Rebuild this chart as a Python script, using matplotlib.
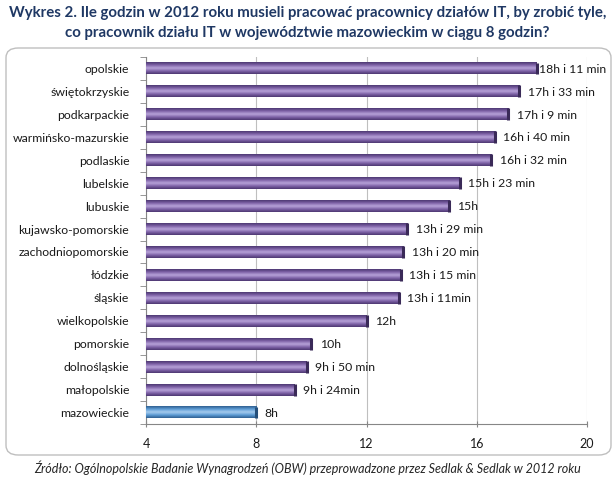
from matplotlib import pyplot as plt
from matplotlib.patches import FancyBboxPatch
from matplotlib.colors import LinearSegmentedColormap
import numpy as np

# data (hours, minutes -> decimal hours)
regions = ['opolskie', 'świętokrzyskie', 'podkarpackie', 'warmińsko-mazurskie', 'podlaskie',
           'lubelskie', 'lubuskie', 'kujawsko-pomorskie', 'zachodniopomorskie', 'łódzkie',
           'śląskie', 'wielkopolskie', 'pomorskie', 'dolnośląskie', 'małopolskie', 'mazowieckie']
hours = [18, 17, 17, 16, 16, 15, 15, 13, 13, 13, 13, 12, 10, 9, 9, 8]
minutes = [11, 33, 9, 40, 32, 23, 0, 29, 20, 15, 11, 0, 0, 50, 24, 0]
labels = ['18h i 11 min', '17h i 33 min', '17h i 9 min', '16h i 40 min', '16h i 32 min',
          '15h i 23 min', '15h', '13h i 29 min', '13h i 20 min', '13h i 15 min',
          '13h i 11min', '12h', '10h', '9h i 50 min', '9h i 24min', '8h']
xticks = [4, 8, 12, 16, 20]

values = np.array(hours) + np.array(minutes) / 60.0
plt.rcParams['font.family'] = ['Lato', 'DejaVu Sans']

fig = plt.figure(figsize=(6.15, 4.79), dpi=100)
# rounded frame behind the plot area
fig.patches.append(FancyBboxPatch((6 / 615, 1 - 455 / 479), 605 / 615, 407 / 479,
                                  boxstyle='round,pad=0,rounding_size=0.02',
                                  transform=fig.transFigure, facecolor='none',
                                  edgecolor='#BFBFBF', linewidth=1.0, zorder=-5))

ax = fig.add_axes([146 / 615, 1 - 424 / 479, 441 / 615, 367 / 479])


def bar_cmap(dark, mid, light):
    return LinearSegmentedColormap.from_list('b', [dark, mid, light, mid, dark])


purple = bar_cmap('#4B3670', '#7F63A8', '#B9A5DA')
blue = bar_cmap('#2E5E8E', '#5B9BD5', '#A9CDEE')
h = 0.52
grad = np.linspace(0, 1, 64).reshape(-1, 1)
for i, (v, lab) in enumerate(zip(values, labels)):
    cm = blue if regions[i] == 'mazowieckie' else purple
    # vertical gradient gives the cylinder look
    ax.imshow(grad, cmap=cm, aspect='auto', extent=(4, v, i + h / 2, i - h / 2),
              interpolation='bicubic', zorder=3)
    ax.plot([v, v], [i - h / 2, i + h / 2], color='#3A2A58' if cm is purple else '#254F7A',
            lw=2.2, zorder=4, solid_capstyle='butt')
    # label pushed close to the bar when it would run past the frame
    off = 0.3 if v < 17.8 else 0.08
    ax.text(v + off, i + 0.03, lab, va='center', ha='left', fontsize=8.8,
            color='#1A1A1A', clip_on=False)

ax.set_xlim(4, 20)
ax.set_ylim(len(regions) - 0.5, -0.5)
ax.set_yticks(range(len(regions)))
ax.set_yticklabels(regions, fontsize=8.8, color='#1A1A1A')
ax.set_yticks(np.arange(-0.5, len(regions)), minor=True)
ax.tick_params(axis='y', which='major', length=0, pad=12)
ax.tick_params(axis='y', which='minor', length=4, color='#868686')
ax.set_xticks(xticks)
ax.set_xticklabels([str(t) for t in xticks], fontsize=9, color='#1A1A1A')
ax.tick_params(axis='x', length=4, color='#868686', direction='inout', pad=8)
ax.grid(axis='x', color='#BFBFBF', linewidth=0.8, zorder=0)
ax.set_axisbelow(True)
for s in ['top', 'right']:
    ax.spines[s].set_visible(False)
for s in ['left', 'bottom']:
    ax.spines[s].set_color('#868686')
ax.patch.set_alpha(0)

fig.text(0.5, 1 - 13 / 479, 'Wykres 2. Ile godzin w 2012 roku musieli pracować pracownicy działów IT, by zrobić tyle,',
         ha='center', va='center', fontsize=10.8, fontweight='bold', color='#1F3864')
fig.text(0.5, 1 - 33 / 479, 'co pracownik działu IT w województwie mazowieckim w ciągu 8 godzin?',
         ha='center', va='center', fontsize=10.8, fontweight='bold', color='#1F3864')
fig.text(0.5, 1 - 468 / 479, 'Źródło: Ogólnopolskie Badanie Wynagrodzeń (OBW) przeprowadzone przez Sedlak & Sedlak w 2012 roku',
         ha='center', va='center', fontsize=9, style='italic', color='#262626')

fig.savefig('out.png', dpi=100)
